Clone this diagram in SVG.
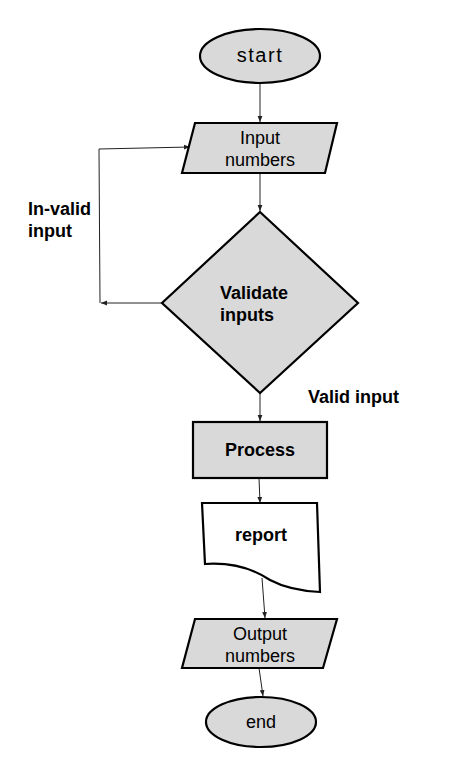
<svg xmlns="http://www.w3.org/2000/svg" width="455" height="761" viewBox="0 0 455 761">
<defs>
<style>
.shape{fill:#d9d9d9;stroke:#000;stroke-width:2.2;stroke-linejoin:miter}
.doc{fill:#fff;stroke:#000;stroke-width:2.2}
.t{font-family:"Liberation Sans",Arial,sans-serif;font-size:18px;fill:#000;text-anchor:middle}
.b{font-weight:bold}
.conn{fill:none;stroke:#222;stroke-width:1}
</style>
<marker id="ah" viewBox="0 0 10 10" refX="10" refY="5" markerWidth="6" markerHeight="6" orient="auto" markerUnits="userSpaceOnUse">
<path d="M0,1 L10,5 L0,9 Z" fill="#222"/>
</marker>
</defs>
<rect width="455" height="761" fill="#fff"/>
<g id="connectors">
<path class="conn" d="M260,83 L260,122" marker-end="url(#ah)"/>
<path class="conn" d="M260,173 L260,211" marker-end="url(#ah)"/>
<path class="conn" d="M161,303 L101,303" marker-end="url(#ah)"/>
<path class="conn" d="M100,303 L99,149 L190,147" marker-end="url(#ah)"/>
<path class="conn" d="M260,393 L260,421" marker-end="url(#ah)"/>
<path class="conn" d="M259,478 L260,503" marker-end="url(#ah)"/>
<path class="conn" d="M262,578 L265,618" marker-end="url(#ah)"/>
<path class="conn" d="M259,668 L263,696" marker-end="url(#ah)"/>
</g>
<g id="start">
<ellipse class="shape" cx="260" cy="56" rx="60" ry="27"/>
<text class="t" x="260" y="62" style="font-size:20px;letter-spacing:1.5px">start</text>
</g>
<g id="input">
<polygon class="shape" points="195,123 337,123 325,173 182,173"/>
<text class="t" x="260" y="144">Input</text>
<text class="t" x="260" y="166">numbers</text>
</g>
<g id="validate">
<polygon class="shape" points="260,212 358,303 260,393 162,303"/>
<text class="t b" x="220" y="299" style="text-anchor:start">Validate</text>
<text class="t b" x="220" y="321" style="text-anchor:start">inputs</text>
</g>
<g id="invalid-label">
<text class="t b" x="28" y="215" style="text-anchor:start">In-valid</text>
<text class="t b" x="28" y="237" style="text-anchor:start">input</text>
</g>
<g id="valid-label">
<text class="t b" x="308" y="403" style="text-anchor:start">Valid input</text>
</g>
<g id="process">
<rect class="shape" x="193" y="422" width="134" height="56"/>
<text class="t b" x="260" y="456">Process</text>
</g>
<g id="report">
<path class="doc" d="M202,503 L317,503 L320,592 C300,591 285,588 270,580 C255,570 235,562 205,564 Z"/>
<text class="t b" x="261" y="541">report</text>
</g>
<g id="output">
<polygon class="shape" points="195,619 337,619 323,668 182,668"/>
<text class="t" x="260" y="640">Output</text>
<text class="t" x="260" y="662">numbers</text>
</g>
<g id="end">
<ellipse class="shape" cx="261" cy="722" rx="55" ry="25"/>
<text class="t" x="261" y="728">end</text>
</g>
</svg>
